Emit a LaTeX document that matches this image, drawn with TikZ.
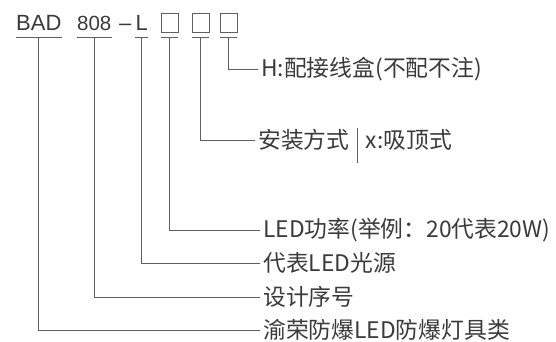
\documentclass[tikz,border=0pt]{standalone}
\usepackage{fontspec}
\setmainfont{Liberation Sans}
\newfontfamily\cjkfont{Noto Sans CJK SC}
\usepackage{tikz}
\usetikzlibrary{positioning, calc}
\usepackage{xcolor}
\definecolor{codetext}{HTML}{3A3A3A}
\definecolor{codeline}{HTML}{606060}

\begin{document}
\begin{tikzpicture}[x=1pt, y=-1pt,
    part/.style={anchor=base west, inner sep=0pt, font=\fontsize{22}{25}\selectfont, text=codetext},
    slot/.style={draw=codeline, line width=0.9pt, minimum width=17pt, minimum height=19pt, inner sep=0pt},
    lnk/.style={draw=codeline, line width=0.9pt},
    desc/.style={anchor=west, inner xsep=3pt, inner ysep=0pt, font=\cjkfont\fontsize{22.8}{27}\selectfont, text=codetext}]
  \useasboundingbox (0,0) rectangle (556,342);

  % model code
  \node[part] (bad) at (16,30.5) {BAD};
  \node[part, font=\fontsize{20.5}{24}\selectfont] (num) at (77,30.5) {808};
  \node[part] (dash) at (119,30.5) {--};
  \node[part, minimum width=13pt, align=left] (led) at (135,30.5) {L};
  \node[slot] (s1) at (169.5,22.5) {};
  \node[slot] (s2) at (200.5,22.5) {};
  \node[slot] (s3) at (228.5,22.5) {};

  % underlines
  \foreach \p in {bad, num, led}
    \draw[lnk] ([yshift=-6.5pt]\p.south west) -- ([yshift=-6.5pt]\p.south east);
  \foreach \p in {s1, s2, s3}
    \draw[lnk] ([yshift=-5pt]\p.south west) -- ([yshift=-5pt]\p.south east);

  % descriptions
  \node[desc] (box) at (258,69) {H:配接线盒(不配不注)};
  \node[desc] (inst) at (255,140) {安装方式};
  \node[desc, right=10pt of inst] (mount) {x:吸顶式};
  \node[desc] (power) at (260,230) {LED功率(举例：20代表20W)};
  \node[desc] (src) at (260,263) {代表LED光源};
  \node[desc] (seq) at (260,297) {设计序号};
  \node[desc] (cls) at (260,330) {渝荣防爆LED防爆灯具类};
  \draw[lnk] ($(inst.east)!0.5!(mount.west)$) ++(0,-12) -- ++(0,35);

  % connectors
  \draw[lnk] ([yshift=-5pt]s3.south) |- (box.west);
  \draw[lnk] ([yshift=-5pt]s2.south) |- (inst.west);
  \draw[lnk] ([yshift=-5pt]s1.south) |- (power.west);
  \draw[lnk] ([yshift=-6.5pt]led.south) |- (src.west);
  \draw[lnk] ([yshift=-6.5pt]num.south) |- (seq.west);
  \draw[lnk] ([yshift=-6.5pt]bad.south) |- (cls.west);
\end{tikzpicture}
\end{document}
